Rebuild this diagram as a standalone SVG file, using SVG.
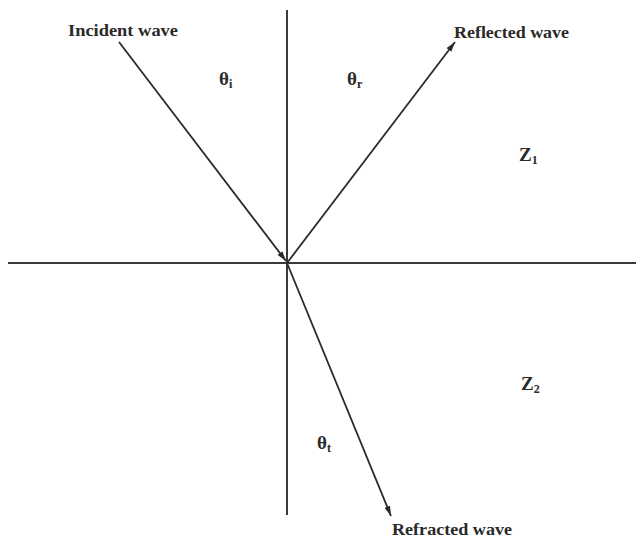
<svg xmlns="http://www.w3.org/2000/svg" width="638" height="538" viewBox="0 0 638 538">
<defs>
<marker id="ah" viewBox="0 0 10 6" refX="10" refY="3" markerWidth="10" markerHeight="6" markerUnits="userSpaceOnUse" orient="auto">
<path d="M0,0 L10,3 L0,6 Z" fill="#2a2a2a"/>
</marker>
</defs>
<style>
.ax{stroke:#3a3a3a;stroke-width:2;fill:none}
.ray{stroke:#2a2a2a;stroke-width:1.8;fill:none}
.lbl{font-family:"Liberation Serif","Times New Roman",serif;font-size:17px;font-weight:bold;fill:#2a2a2a}
.sym{font-family:"Liberation Serif","Times New Roman",serif;font-size:19px;font-weight:bold;fill:#2a2a2a}
.sub{font-size:12px}
</style>
<rect width="638" height="538" fill="#ffffff"/>
<g id="axes">
<line class="ax" x1="287" y1="10" x2="287" y2="515"/>
<line class="ax" x1="8" y1="263" x2="636" y2="263"/>
</g>
<g id="connectors">
<line id="incident" class="ray" x1="119" y1="42" x2="286" y2="261" marker-end="url(#ah)"/>
<line id="reflected" class="ray" x1="287" y1="263" x2="455" y2="42" marker-end="url(#ah)"/>
<line id="refracted" class="ray" x1="287" y1="263" x2="391" y2="516" marker-end="url(#ah)"/>
</g>
<g id="incident-label"><text class="lbl" x="68" y="36" textLength="110" lengthAdjust="spacingAndGlyphs">Incident wave</text></g>
<g id="reflected-label"><text class="lbl" x="454" y="38" textLength="115" lengthAdjust="spacingAndGlyphs">Reflected wave</text></g>
<g id="refracted-label"><text class="lbl" x="392" y="535" textLength="120" lengthAdjust="spacingAndGlyphs">Refracted wave</text></g>
<g id="theta-i"><text class="sym" x="219" y="85">θ<tspan class="sub" dy="3">i</tspan></text></g>
<g id="theta-r"><text class="sym" x="347" y="85">θ<tspan class="sub" dy="3">r</tspan></text></g>
<g id="theta-t"><text class="sym" x="317" y="449">θ<tspan class="sub" dy="3">t</tspan></text></g>
<g id="z1"><text class="sym" x="519" y="161">Z<tspan class="sub" dy="3">1</tspan></text></g>
<g id="z2"><text class="sym" x="521" y="390">Z<tspan class="sub" dy="3">2</tspan></text></g>
</svg>
